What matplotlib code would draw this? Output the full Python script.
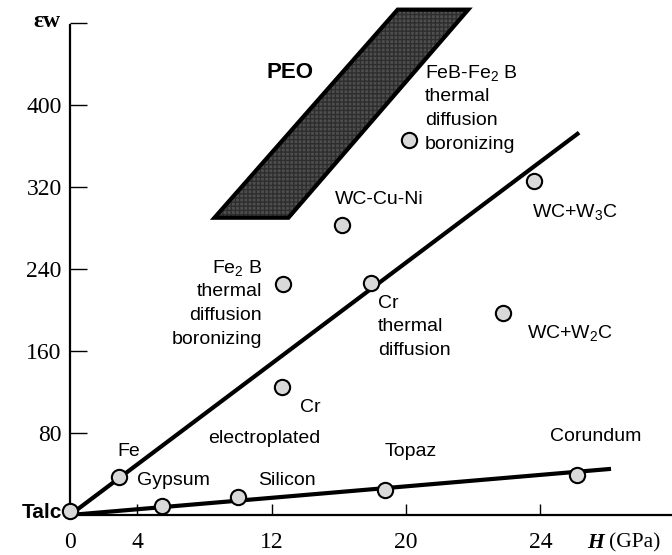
import numpy as np
import matplotlib
matplotlib.use("Agg")
import matplotlib.pyplot as plt
from matplotlib.patches import Polygon

plt.rcParams['font.family'] = ['Liberation Sans', 'DejaVu Sans']
plt.rcParams['mathtext.fontset'] = 'custom'
plt.rcParams['mathtext.rm'] = 'Liberation Sans'
plt.rcParams['mathtext.it'] = 'Liberation Sans:italic'
plt.rcParams['mathtext.bf'] = 'Liberation Sans:bold'

# measured points (hardness H, wear resistance eps_w)
names = ['Talc', 'Fe', 'Gypsum', 'Silicon', 'Topaz', 'Corundum',
         'Cr electroplated', 'Fe2B', 'Cr thermal', 'WC-Cu-Ni',
         'FeB-Fe2B', 'WC+W3C', 'WC+W2C']
H = [0, 2.9, 5.5, 10.0, 18.75, 30.2, 12.6, 12.7, 17.9, 16.2, 20.2, 27.6, 25.8]
eps = [4, 37, 9, 17.5, 24, 39, 125, 225, 226, 283, 366, 326, 197]

# trend lines (start, end)
upper_x = [0, 30.3]
upper_y = [0, 373]
lower_x = [0, 32.2]
lower_y = [0, 45]

# PEO region corners
peo_x = [8.6, 13.0, 23.7, 19.5]
peo_y = [290, 290, 493, 493]

xtick_pos = [0, 4, 12, 20, 28]
xtick_lab = ['0', '4', '12', '20', '24']
ytick_pos = [80, 160, 240, 320, 400, 480]
ytick_lab = ['80', '160', '240', '320', '400', '']

fig = plt.figure(figsize=(6.72, 5.55), dpi=100)
ax = fig.add_axes([70 / 672, 40 / 555, 602 / 672, 515 / 555])
ax.set_xlim(0, 35.83)
ax.set_ylim(0, 502.4)

for s in ['top', 'right']:
    ax.spines[s].set_visible(False)
ax.spines['left'].set_linewidth(1.6)
ax.spines['bottom'].set_linewidth(1.6)
ax.spines['left'].set_bounds(0, 478)

ax.set_xticks(xtick_pos)
ax.set_xticklabels(xtick_lab, family='Liberation Serif', fontsize=17)
ax.set_yticks(ytick_pos)
ax.set_yticklabels(ytick_lab, family='Liberation Serif', fontsize=17)
ax.tick_params(axis='x', direction='in', length=8, width=1, pad=12)
ax.tick_params(axis='y', direction='in', length=12, width=1, pad=6)

# PEO band
ax.add_patch(Polygon(list(zip(peo_x, peo_y)), closed=True, facecolor='#4e4e4e',
                     edgecolor='#2e2e2e', hatch='++++', linewidth=0, clip_on=False))
ax.add_patch(Polygon(list(zip(peo_x, peo_y)), closed=True, fill=False,
                     edgecolor='black', linewidth=3, clip_on=False))

ax.plot(upper_x, upper_y, color='black', lw=3, solid_capstyle='butt')
ax.plot(lower_x, lower_y, color='black', lw=3, solid_capstyle='butt')

ax.plot(H, eps, 'o', ms=11, mfc='#d9d9d9', mec='black', mew=1.5,
        clip_on=False, zorder=5)

fs = 14
txt = dict(fontsize=fs, va='center')
ax.text(3.51, 61.5, 'Fe', ha='center', **txt)
ax.text(3.99, 34.1, 'Gypsum', ha='left', **txt)
ax.text(11.19, 34.1, 'Silicon', ha='left', **txt)
ax.text(18.75, 62.4, 'Topaz', ha='left', **txt)
ax.text(28.57, 76.1, 'Corundum', ha='left', **txt)
ax.text(13.69, 104.4, 'Cr', ha='left', **txt)
ax.text(8.21, 75.1, 'electroplated', ha='left', **txt)
ax.text(15.77, 307.3, 'WC-Cu-Ni', ha='left', **txt)
ax.text(27.5, 295.6, 'WC+W$_3$C', ha='left', **txt)
ax.text(27.2, 177.6, 'WC+W$_2$C', ha='left', **txt)


def block(x, y0, lines, ha):
    for i, s in enumerate(lines):
        ax.text(x, y0 - i * 23.2, s, ha=ha, **txt)


block(11.43, 241, ['Fe$_2$ B', 'thermal', 'diffusion', 'boronizing'], 'right')
block(18.33, 206.8, ['Cr', 'thermal', 'diffusion'], 'left')
block(21.13, 431.2, ['FeB-Fe$_2$ B', 'thermal', 'diffusion', 'boronizing'], 'left')

ax.text(13.1, 431.2, 'PEO', ha='center', va='center', fontsize=16, fontweight='bold')
ax.text(-0.48, 2, 'Talc', ha='right', va='center', fontsize=15,
        fontweight='bold', clip_on=False)
ax.text(-1.37, 481, 'εw', ha='center', va='center', fontsize=17,
        family='Liberation Serif', fontweight='bold', clip_on=False)

fig.text(587 / 672, 1 - 543 / 555, 'H', family='Liberation Serif', fontsize=15.5,
         fontweight='bold', fontstyle='italic', va='center', ha='left')
fig.text(609 / 672, 1 - 543 / 555, '(GPa)', family='Liberation Serif', fontsize=15.5,
         va='center', ha='left')

fig.savefig('out.png', dpi=100)
